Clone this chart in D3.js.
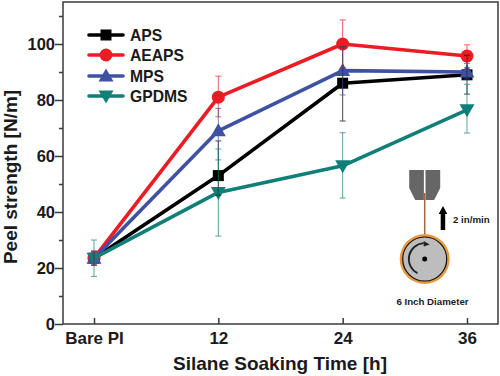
<!DOCTYPE html>
<html>
<head>
<meta charset="utf-8">
<script src="https://cdn.jsdelivr.net/npm/d3@7"></script>
<style>
  html, body { margin: 0; padding: 0; background: #fff; }
  svg { display: block; }
  text { font-family: "Liberation Sans", Arial, sans-serif; font-weight: bold; fill: #1a1a1a; }
  .axis path, .axis line { stroke: #3a3a3a; stroke-width: 1.5; }
</style>
</head>
<body>
<div id="chart"></div>
<script>
const categories = ["Bare PI", "12", "24", "36"];
const seriesNames = ["APS", "AEAPS", "MPS", "GPDMS"];
const seriesColors = ["#000000", "#ed1c24", "#3f51a3", "#0f7f78"];

const apsValues = [23.5, 53, 86, 89];
const apsLow = [21, 46, 72.5, 82.1];
const apsHigh = [26, 65.4, 99, 96];

const aeapsValues = [23.5, 81, 100, 95.7];
const aeapsLow = [21, 74, 91.5, 91.5];
const aeapsHigh = [26, 88.5, 108.6, 99.7];

const mpsValues = [23.5, 69, 90.5, 90];
const mpsLow = [21, 58.6, 81.8, 87.5];
const mpsHigh = [26, 77, 99, 93];

const gpdmsValues = [23.5, 47, 56.5, 76.5];
const gpdmsLow = [17, 31.4, 45, 68.2];
const gpdmsHigh = [30, 62.5, 68.3, 85.6];

const yTicks = [0, 10, 20, 30, 40, 50, 60, 70, 80, 90, 100, 110];
const yLabelled = [0, 20, 40, 60, 80, 100];

const W = 500, H = 376;
const plot = { left: 63, right: 498, top: 2, bottom: 324 };

const svg = d3.select("#chart").append("svg").attr("width", W).attr("height", H);

const x = d3.scalePoint().domain(categories).range([94, 467]);
const y = d3.scaleLinear().domain([0, 115]).range([plot.bottom, plot.bottom - 115 * 2.8]);

// frame
svg.append("rect")
  .attr("x", plot.left).attr("y", plot.top)
  .attr("width", plot.right - plot.left).attr("height", plot.bottom - plot.top)
  .attr("fill", "none").attr("stroke", "#3a3a3a").attr("stroke-width", 1.5);

// axes
const xAxis = svg.append("g")
  .attr("class", "axis")
  .attr("transform", `translate(0,${plot.bottom})`)
  .call(d3.axisBottom(x).tickSize(-6).tickPadding(8).tickSizeOuter(0));
xAxis.select(".domain").remove();
xAxis.selectAll("text").attr("font-size", 17);

const yAxis = svg.append("g")
  .attr("class", "axis")
  .attr("transform", `translate(${plot.left},0)`)
  .call(d3.axisLeft(y).tickValues(yTicks).tickSizeOuter(0).tickPadding(4)
    .tickFormat(d => yLabelled.includes(d) ? d : ""));
yAxis.select(".domain").remove();
yAxis.selectAll(".tick line").attr("x2", d => yLabelled.includes(d) ? -8 : -4);
yAxis.selectAll("text").attr("x", -8).attr("font-size", 16.5);

// axis titles
svg.append("text")
  .attr("x", 280).attr("y", 370)
  .attr("text-anchor", "middle").attr("font-size", 19)
  .text("Silane Soaking Time [h]");

svg.append("text")
  .attr("transform", "translate(17,177) rotate(-90)")
  .attr("text-anchor", "middle").attr("font-size", 19)
  .text("Peel strength [N/m]");

// series
const series = [
  { values: apsValues, low: apsLow, high: apsHigh, sym: "square" },
  { values: aeapsValues, low: aeapsLow, high: aeapsHigh, sym: "circle" },
  { values: mpsValues, low: mpsLow, high: mpsHigh, sym: "up" },
  { values: gpdmsValues, low: gpdmsLow, high: gpdmsHigh, sym: "down" }
];

function marker(g, sym, color) {
  if (sym === "square") {
    g.append("rect").attr("x", -5.5).attr("y", -5.5).attr("width", 11).attr("height", 11).attr("fill", color);
  } else if (sym === "circle") {
    g.append("circle").attr("r", 6.5).attr("fill", color);
  } else if (sym === "up") {
    g.append("path").attr("d", "M0,-7.5L7.5,5.5L-7.5,5.5Z").attr("fill", color);
  } else {
    g.append("path").attr("d", "M0,7.5L7.5,-5.5L-7.5,-5.5Z").attr("fill", color);
  }
}

const line = d3.line().x((d, i) => x(categories[i])).y(d => y(d));

series.forEach((s, k) => {
  const color = seriesColors[k];
  const g = svg.append("g");

  g.append("path").datum(s.values)
    .attr("d", line).attr("fill", "none")
    .attr("stroke", color).attr("stroke-width", 3.6).attr("stroke-linejoin", "round");

  s.values.forEach((v, i) => {
    marker(g.append("g").attr("transform", `translate(${x(categories[i])},${y(v)})`), s.sym, color);
  });
});

// error bars sit over the markers, they show through in the original
series.forEach((s, k) => {
  const color = seriesColors[k];
  const g = svg.append("g").attr("stroke", color).attr("stroke-width", 1).attr("opacity", 0.7);

  g.selectAll(".err").data(categories).join("line")
    .attr("x1", d => x(d)).attr("x2", d => x(d))
    .attr("y1", (d, i) => y(s.low[i])).attr("y2", (d, i) => y(s.high[i]));

  [s.low, s.high].forEach(arr => {
    g.selectAll(null).data(categories).join("line")
      .attr("x1", d => x(d) - 3).attr("x2", d => x(d) + 3)
      .attr("y1", (d, i) => y(arr[i])).attr("y2", (d, i) => y(arr[i]));
  });
});

// legend
const legendRows = [35, 55, 76, 96];
seriesNames.forEach((name, k) => {
  const g = svg.append("g").attr("transform", `translate(89,${legendRows[k]})`);
  g.append("line").attr("x1", 0).attr("x2", 34)
    .attr("stroke", seriesColors[k]).attr("stroke-width", 3.6).attr("stroke-linecap", "round");
  marker(g.append("g").attr("transform", "translate(17,0)"), series[k].sym, seriesColors[k]);
  g.append("text").attr("x", 41).attr("y", 5.5).attr("font-size", 15.7).text(name);
});

// peel test inset
const inset = svg.append("g").attr("transform", "translate(424.7,259)");
inset.append("path")
  .attr("d", "M-15.5,-89H-0.8V-59H-9.5L-15.5,-71Z M0.8,-89H15.5V-71L9.5,-59H0.8Z")
  .attr("fill", "#666");
inset.append("line").attr("x1", 0).attr("x2", 0).attr("y1", -66).attr("y2", -24)
  .attr("stroke", "#a8633a").attr("stroke-width", 1.5);
inset.append("circle").attr("r", 25).attr("fill", "#e8983f");
inset.append("circle").attr("r", 22).attr("fill", "#bdbdbd").attr("stroke", "#111").attr("stroke-width", 1.2);
inset.append("circle").attr("r", 2.5).attr("fill", "#000");
inset.append("path")
  .attr("d", d3.arc()({ innerRadius: 15, outerRadius: 16.8, startAngle: Math.PI * 1.15, endAngle: Math.PI * 1.98 }))
  .attr("fill", "#222");
inset.append("path").attr("d", "M-1,-18L5,-14.5L-1,-12.5Z").attr("fill", "#222");
inset.append("path").attr("d", "M16,-29V-45H14L18.3,-53L22.6,-45H20.5V-29Z").attr("fill", "#000");

svg.append("text").attr("x", 453).attr("y", 222.5).attr("font-size", 9.7).text("2 in/min");
svg.append("text").attr("x", 432.5).attr("y", 305).attr("text-anchor", "middle").attr("font-size", 9.7).text("6 Inch Diameter");
</script>
</body>
</html>
